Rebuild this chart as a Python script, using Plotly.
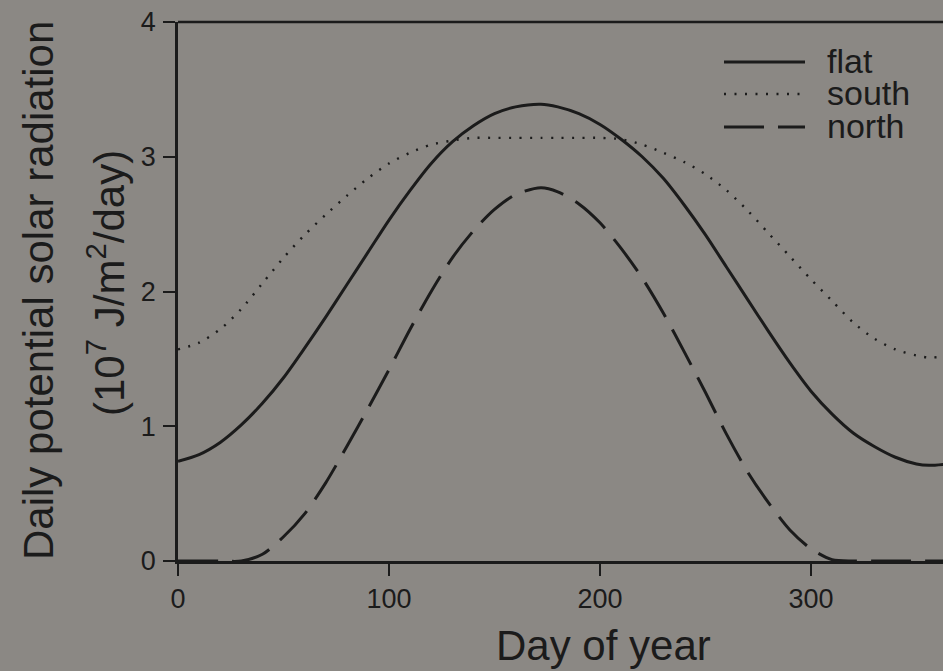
import plotly.graph_objects as go

# ---- data ----
days = [0, 10, 20, 30, 40, 50, 60, 70, 80, 90, 100, 110, 120, 130, 140, 150, 160, 172,
        180, 190, 200, 210, 220, 230, 240, 250, 260, 270, 280, 290, 300, 310, 320, 330,
        340, 350, 356, 365]
flat = [0.74, 0.79, 0.88, 1.01, 1.17, 1.36, 1.58, 1.81, 2.05, 2.29, 2.53, 2.75, 2.95,
        3.11, 3.23, 3.32, 3.37, 3.39, 3.37, 3.32, 3.24, 3.13, 3.00, 2.84, 2.64, 2.42,
        2.18, 1.94, 1.70, 1.47, 1.26, 1.09, 0.95, 0.85, 0.77, 0.72, 0.71, 0.72]
south = [1.57, 1.62, 1.72, 1.87, 2.06, 2.25, 2.42, 2.57, 2.71, 2.84, 2.95, 3.03, 3.09,
         3.12, 3.14, 3.14, 3.14, 3.14, 3.14, 3.14, 3.14, 3.13, 3.09, 3.03, 2.96, 2.87,
         2.75, 2.60, 2.43, 2.26, 2.09, 1.93, 1.77, 1.65, 1.57, 1.525, 1.51, 1.52]
north = [0.0, 0.0, 0.0, 0.0, 0.05, 0.18, 0.35, 0.58, 0.85, 1.13, 1.42, 1.72, 2.00,
         2.25, 2.45, 2.61, 2.72, 2.77, 2.74, 2.65, 2.51, 2.32, 2.10, 1.84, 1.55, 1.25,
         0.94, 0.66, 0.43, 0.23, 0.09, 0.01, 0.0, 0.0, 0.0, 0.0, 0.0, 0.0]

series_names = ["flat", "south", "north"]
x_ticks = [0, 100, 200, 300]
y_ticks = [0, 1, 2, 3, 4]

INK = "#1b1b1b"
BG = "#8b8884"
FONT = "Liberation Sans, Arial, sans-serif"
DASHES = {"flat": "solid", "south": "2px,8.5px", "north": "40px,14px"}
WIDTHS = {"flat": 3, "south": 2.4, "north": 3}

W, H = 943, 671
ML, MR, MT, MB = 178, 0, 22, 110
PW, PH = W - ML - MR, H - MT - MB


def px2paper_x(px):
    return (px - ML) / PW


def px2paper_y(py):
    return (H - MB - py) / PH


fig = go.Figure()
for name, vals in zip(series_names, [flat, south, north]):
    fig.add_trace(go.Scatter(
        x=days, y=vals, mode="lines", name=name, showlegend=False,
        line=dict(color=INK, width=WIDTHS[name], dash=DASHES[name], shape="spline", smoothing=0.8),
    ))

shapes = [
    # top frame line
    dict(type="line", xref="paper", yref="paper", x0=0, x1=1, y0=1, y1=1,
         line=dict(color=INK, width=2.5)),
]
annotations = []

# custom legend
leg_y = [62, 94, 127]
for name, ly in zip(series_names, leg_y):
    shapes.append(dict(type="line", xref="paper", yref="paper",
                       x0=px2paper_x(724), x1=px2paper_x(805),
                       y0=px2paper_y(ly), y1=px2paper_y(ly),
                       line=dict(color=INK, width=WIDTHS[name], dash=DASHES[name])))
    annotations.append(dict(text=name, xref="paper", yref="paper",
                            x=px2paper_x(825), y=px2paper_y(ly - 1),
                            xanchor="left", yanchor="middle", showarrow=False,
                            font=dict(family=FONT, size=34, color=INK)))

# axis titles
annotations.append(dict(text="Day of year", xref="paper", yref="paper",
                        x=px2paper_x(603), y=px2paper_y(645),
                        xanchor="center", yanchor="middle", showarrow=False,
                        font=dict(family=FONT, size=42, color=INK)))
annotations.append(dict(text="Daily potential solar radiation", xref="paper", yref="paper",
                        x=px2paper_x(38), y=px2paper_y(291), textangle=-90,
                        xanchor="center", yanchor="middle", showarrow=False,
                        font=dict(family=FONT, size=42, color=INK)))
annotations.append(dict(text="(10<sup>7</sup> J/m<sup>2</sup>/day)", xref="paper", yref="paper",
                        x=px2paper_x(106), y=px2paper_y(283), textangle=-90,
                        xanchor="center", yanchor="middle", showarrow=False,
                        font=dict(family=FONT, size=42, color=INK)))

fig.update_layout(
    width=W, height=H,
    margin=dict(l=ML, r=MR, t=MT, b=MB, pad=0),
    paper_bgcolor=BG, plot_bgcolor=BG,
    font=dict(family=FONT, color=INK),
    shapes=shapes, annotations=annotations,
    showlegend=False,
)
fig.update_xaxes(
    range=[0, PW / 2.11], tickvals=x_ticks, ticktext=[str(v) for v in x_ticks],
    showgrid=False, zeroline=False, showline=True, linecolor=INK, linewidth=2.5,
    ticks="outside", ticklen=12, tickwidth=2, tickcolor=INK,
    tickfont=dict(family=FONT, size=27, color=INK), ticklabelstandoff=0,
)
fig.update_yaxes(
    range=[0, 4], tickvals=y_ticks, ticktext=[str(v) for v in y_ticks],
    showgrid=False, zeroline=False, showline=True, linecolor=INK, linewidth=2.5,
    ticks="outside", ticklen=12, tickwidth=2, tickcolor=INK,
    tickfont=dict(family=FONT, size=27, color=INK), ticklabelstandoff=2,
)

fig.write_html("out.html")
